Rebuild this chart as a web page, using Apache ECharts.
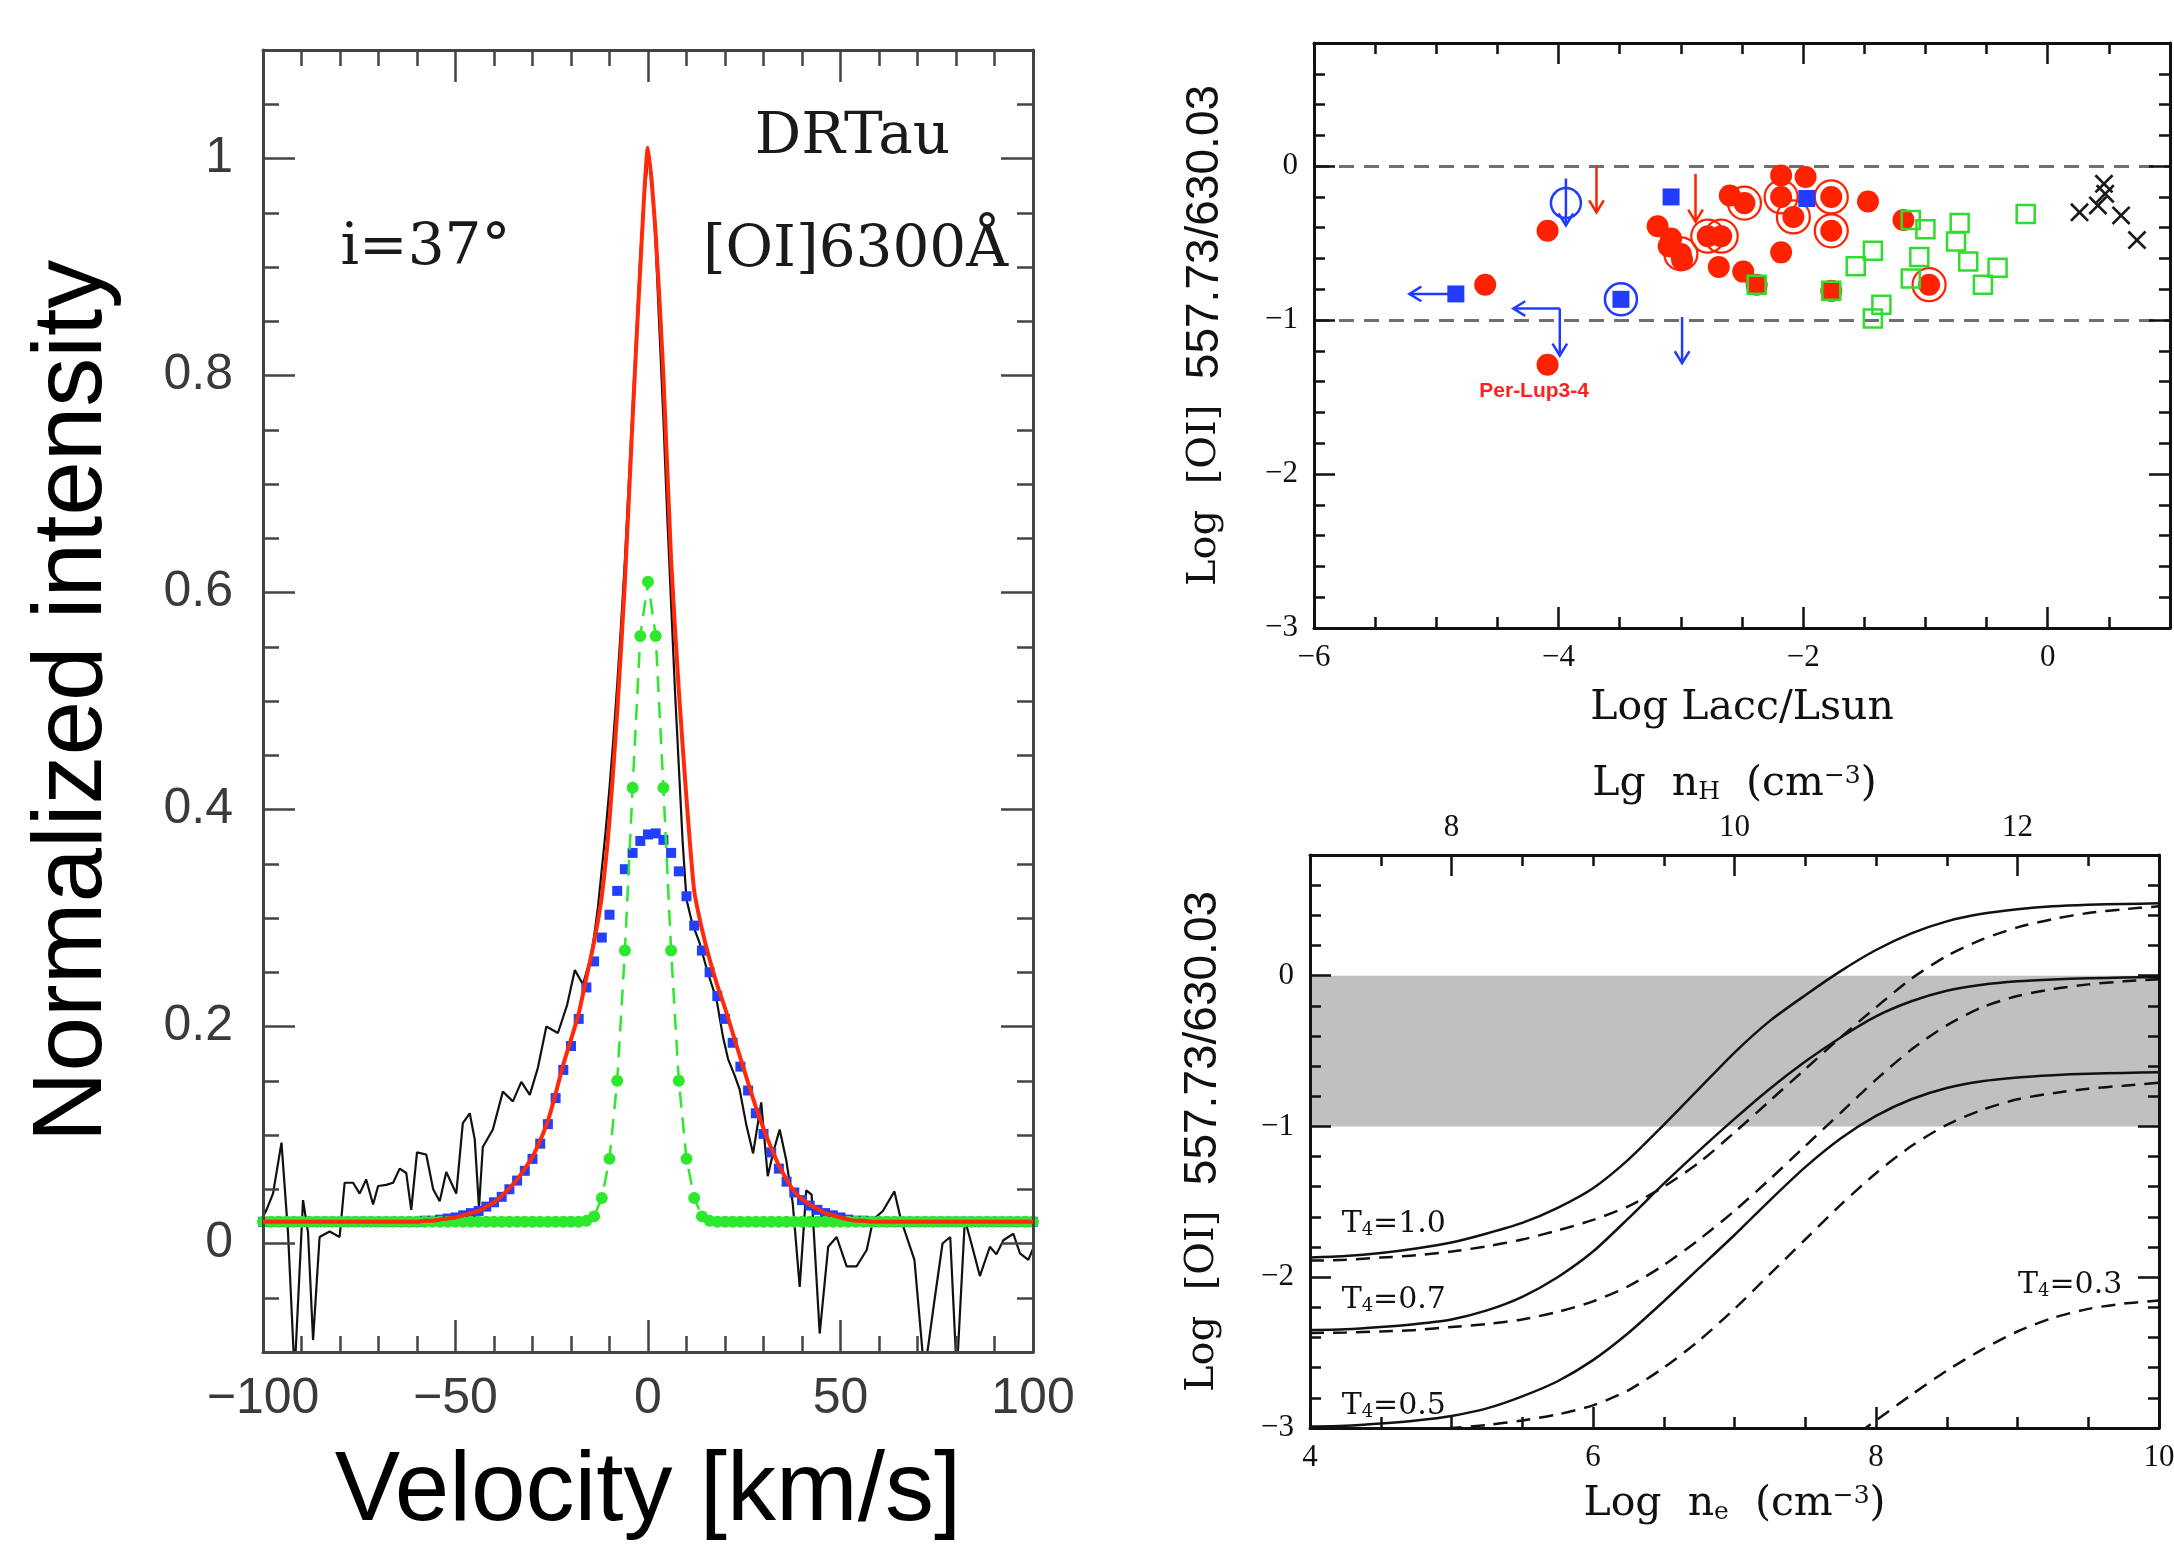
<!DOCTYPE html>
<html>
<head>
<meta charset="utf-8">
<title>[OI] line profile and 557.7/630.0 line ratio</title>
<script src="https://cdn.jsdelivr.net/npm/echarts@6/dist/echarts.min.js"></script>
<style>
html,body{margin:0;padding:0;background:#fff;}
#chart{width:2174px;height:1557px;}
</style>
</head>
<body>
<div id="chart"></div>
<script>
// ---------- Panel A: DR Tau [OI]6300 profile ----------
const velocityGrid = [-100,-98,-96,-94,-92,-90,-88,-86,-84,-82,-80,-78,-76,-74,-72,-70,-68,-66,-64,-62,
  -60,-58,-56,-54,-52,-50,-48,-46,-44,-42,-40,-38,-36,-34,-32,-30,-28,-26,-24,-22,
  -20,-18,-16,-14,-12,-10,-8,-6,-4,-2,0,2,4,6,8,10,12,14,16,18,
  20,22,24,26,28,30,32,34,36,38,40,42,44,46,48,50,52,54,56,58,
  60,62,64,66,68,70,72,74,76,78,80,82,84,86,88,90,92,94,96,98,100];

// total two-component fit (red)
const totalFit = [0.02,0.02,0.02,0.02,0.02,0.02,0.02,0.02,0.02,0.02,
  0.02,0.02,0.02,0.02,0.02,0.02,0.02,0.02,0.02,0.02,0.02,
  0.021,0.021,0.022,0.023,0.024,0.026,0.028,0.030,0.034,0.038,0.044,0.051,0.059,0.069,0.080,
  0.095,0.113,0.138,0.165,0.188,0.212,0.245,0.278,0.32,0.39,0.49,0.61,0.76,0.90,
  1.01,0.93,0.80,0.63,0.51,0.41,0.325,0.29,0.262,0.238,0.217,0.194,0.171,0.148,0.126,
  0.106,0.088,0.072,0.059,0.048,0.041,0.036,0.032,0.028,0.026,0.024,0.022,0.021,0.021,
  0.02,0.02,0.02,0.02,0.02,0.02,0.02,0.02,0.02,0.02,
  0.02,0.02,0.02,0.02,0.02,0.02,0.02,0.02,0.02,0.02,0.02,0.02];

// broad component (blue squares)
const broadFit = [0.02,0.02,0.02,0.02,0.02,0.02,0.02,0.02,0.02,0.02,
  0.02,0.02,0.02,0.02,0.02,0.02,0.02,0.02,0.02,0.02,0.02,
  0.021,0.021,0.022,0.023,0.024,0.026,0.028,0.030,0.034,0.038,0.043,0.050,0.058,0.067,0.078,
  0.092,0.110,0.134,0.160,0.182,0.207,0.236,0.260,0.282,0.303,0.325,0.345,0.360,0.371,
  0.377,0.378,0.372,0.360,0.343,0.320,0.293,0.270,0.250,0.228,0.207,0.185,0.163,0.141,0.120,
  0.101,0.084,0.069,0.057,0.047,0.040,0.035,0.031,0.028,0.026,0.024,0.022,0.021,0.021,
  0.02,0.02,0.02,0.02,0.02,0.02,0.02,0.02,0.02,0.02,
  0.02,0.02,0.02,0.02,0.02,0.02,0.02,0.02,0.02,0.02,0.02,0.02];

// narrow component (green dots)
const narrowFit = [0.02,0.02,0.02,0.02,0.02,0.02,0.02,0.02,0.02,0.02,
  0.02,0.02,0.02,0.02,0.02,0.02,0.02,0.02,0.02,0.02,
  0.02,0.02,0.02,0.02,0.02,0.02,0.02,0.02,0.02,0.02,
  0.02,0.02,0.02,0.02,0.02,0.02,0.02,0.02,0.02,0.02,0.02,0.02,
  0.021,0.025,0.042,0.078,0.15,0.27,0.42,0.56,0.61,0.56,0.42,0.27,0.15,0.078,0.042,0.025,0.021,
  0.02,0.02,0.02,0.02,0.02,0.02,0.02,0.02,0.02,0.02,
  0.02,0.02,0.02,0.02,0.02,0.02,0.02,0.02,0.02,0.02,
  0.02,0.02,0.02,0.02,0.02,0.02,0.02,0.02,0.02,0.02,
  0.02,0.02,0.02,0.02,0.02,0.02,0.02,0.02,0.02,0.02,0.02,0.02];

// observed spectrum (black)
const obsVelocity = [-100,-99.1,-97.4,-95.2,-93.5,-91.8,-89.6,-88.3,-87.0,-85.3,-82.7,-80.1,-78.8,-76.6,-74.9,
  -73.2,-71.4,-70.1,-68.0,-66.2,-64.5,-62.8,-61.5,-60.0,-57.6,-55.8,-54.1,-52.4,-51.1,-49.8,
  -48.1,-46.3,-45.0,-43.9,-42.9,-40.3,-37.7,-35.1,-32.9,-30.7,-28.6,-26.4,-23.4,-21.0,-19.0,
  -16.9,-15,-14,-13,-12,-11,-10,-9,-8,-7,-6,-5,-4,-3,-2,-1,0,1,2,3,4,5,6,7,8,9,10,
  11.5,13.4,15.5,17.8,19.5,20.8,22.5,23.8,25.5,27.3,29.4,31.1,32.6,34.2,35.9,37.6,39.4,41.1,42.5,
  44.6,46.8,49.0,51.6,54.2,56.8,58.5,61.0,64.0,65.7,69.2,71.8,74.5,76.5,78.5,80.2,82.3,84.0,
  86.2,88.8,90.5,92.3,94.9,96.6,98.8,100];
const obsIntensity = [0.025,0.031,0.046,0.093,0.010,-0.12,0.040,0.010,-0.089,0.006,0.011,0.006,0.056,0.056,0.046,
  0.059,0.036,0.053,0.054,0.056,0.069,0.065,0.031,0.084,0.082,0.050,0.039,0.066,0.056,0.046,
  0.111,0.120,0.096,0.033,0.089,0.105,0.140,0.131,0.149,0.137,0.162,0.200,0.194,0.22,0.252,
  0.239,0.262,0.283,0.31,0.345,0.38,0.42,0.465,0.515,0.57,0.63,0.70,0.77,0.84,0.91,0.965,1.0,0.985,0.92,0.84,0.76,0.67,0.59,0.51,0.44,0.37,0.317,
  0.295,0.277,0.25,0.225,0.19,0.170,0.155,0.142,0.11,0.083,0.130,0.062,0.085,0.105,0.077,0.037,-0.040,0.049,0.045,
  -0.083,-0.003,0.006,-0.021,-0.021,-0.006,0.022,0.03,0.048,0.022,-0.015,-0.12,-0.05,0.0,0.006,-0.12,0.022,0.0,
  -0.03,-0.003,-0.01,0.003,0.009,-0.009,-0.015,-0.005];

const velocityMajor = [-100, -50, 0, 50, 100];
const velocityMinor = [-90,-80,-70,-60,-40,-30,-20,-10,10,20,30,40,60,70,80,90];
const intensityMajor = [0, 0.2, 0.4, 0.6, 0.8, 1];
const intensityMinor = [-0.05,0.05,0.1,0.15,0.25,0.3,0.35,0.45,0.5,0.55,0.65,0.7,0.75,0.85,0.9,0.95,1.05];
const profileNotes = [
  { text: 'DRTau', at: [53.1, 1.019] },
  { text: '[OI]6300\u00C5', at: [53.9, 0.915] },
  { text: 'i=37\u00B0', at: [-57.8, 0.917] }
];

// ---------- Panel B: line ratio vs accretion luminosity ----------
const redFilled = [[-4.60,-0.77],[-4.09,-0.42],[-4.09,-1.29],[-3.19,-0.39],[-3.10,-0.52],[-3.08,-0.47],
  [-2.99,-0.61],[-2.69,-0.655],[-2.49,-0.685],[-2.60,-0.19],[-2.18,-0.06],[-1.98,-0.07],[-1.47,-0.23],
  [-2.18,-0.56],[-1.18,-0.35],[-2.38,-0.77],[-1.77,-0.81]];
const redRinged = [[-3.00,-0.57],[-2.78,-0.455],[-2.67,-0.455],[-2.48,-0.24],[-2.18,-0.20],[-2.08,-0.33],
  [-1.77,-0.20],[-1.77,-0.42],[-0.97,-0.77]];
const greenOpen = [[-1.12,-0.35],[-1.00,-0.41],[-0.72,-0.37],[-0.75,-0.49],[-1.05,-0.59],[-1.12,-0.73],
  [-0.65,-0.62],[-0.41,-0.66],[-0.53,-0.77],[-1.43,-0.55],[-1.57,-0.65],[-1.36,-0.90],[-1.43,-0.99],
  [-0.18,-0.31],[-2.38,-0.77],[-1.77,-0.81]];
const blackCross = [[0.26,-0.30],[0.41,-0.255],[0.46,-0.115],[0.47,-0.18],[0.60,-0.32],[0.73,-0.48]];
const blueSquare = [[-4.84,-0.83],[-3.08,-0.20],[-1.97,-0.21],[-3.49,-0.865]];
const blueRinged = [[-3.49,-0.865]];
const blueOpen = [[-3.94,-0.24]];
// limits: [x from, y from, x to, y to]
const redLimits = [[-3.69,0.0,-3.69,-0.30],[-2.88,-0.05,-2.88,-0.36]];
const blueLimits = [[-4.84,-0.83,-5.22,-0.83],[-3.99,-0.925,-4.37,-0.925],[-3.99,-0.925,-3.99,-1.23],
  [-2.99,-0.98,-2.99,-1.28],[-3.94,-0.08,-3.94,-0.385]];
const sourceNote = { text: 'Per-Lup3-4', at: [-4.20, -1.465] };
const laccMajor = [-6, -4, -2, 0];
const laccMinor = [-5.5,-5,-4.5,-3.5,-3,-2.5,-1.5,-1,-0.5,0.5];
const ratioMajor = [-3, -2, -1, 0];
const ratioMinor = [-2.8,-2.6,-2.4,-2.2,-1.8,-1.6,-1.4,-1.2,-0.8,-0.6,-0.4,-0.2,0.2,0.4,0.6];

// ---------- Panel C: model ratio vs electron density ----------
const neGrid = [4,4.25,4.5,4.75,5,5.25,5.5,5.75,6,6.25,6.5,6.75,7,7.25,7.5,7.75,8,8.25,8.5,8.75,9,9.25,9.5,9.75,10];
const t10Solid = [-1.87,-1.86,-1.84,-1.81,-1.77,-1.71,-1.64,-1.54,-1.41,-1.22,-0.99,-0.75,-0.51,
  -0.30,-0.13,0.03,0.17,0.28,0.36,0.41,0.44,0.46,0.47,0.475,0.48];
const t10Dash = [-1.89,-1.885,-1.87,-1.855,-1.83,-1.795,-1.75,-1.69,-1.62,-1.53,-1.40,-1.24,-1.04,
  -0.83,-0.62,-0.41,-0.21,-0.02,0.13,0.24,0.32,0.375,0.415,0.44,0.46];
const t07Solid = [-2.35,-2.345,-2.33,-2.31,-2.28,-2.22,-2.13,-2.00,-1.83,-1.61,-1.38,-1.16,-0.95,
  -0.75,-0.57,-0.41,-0.27,-0.17,-0.10,-0.06,-0.037,-0.025,-0.018,-0.013,-0.01];
const t07Dash = [-2.37,-2.367,-2.36,-2.35,-2.33,-2.31,-2.28,-2.23,-2.16,-2.06,-1.92,-1.75,-1.56,
  -1.35,-1.13,-0.91,-0.69,-0.49,-0.33,-0.21,-0.135,-0.09,-0.058,-0.038,-0.024];
const t05Solid = [-2.99,-2.985,-2.97,-2.95,-2.92,-2.87,-2.79,-2.69,-2.55,-2.37,-2.16,-1.94,-1.72,
  -1.49,-1.27,-1.08,-0.93,-0.82,-0.745,-0.70,-0.675,-0.66,-0.65,-0.645,-0.64];
const t05Dash = [-3.05,-3.045,-3.035,-3.02,-3.0,-2.98,-2.95,-2.91,-2.85,-2.75,-2.60,-2.42,-2.21,
  -1.98,-1.75,-1.52,-1.31,-1.13,-0.99,-0.89,-0.82,-0.78,-0.75,-0.73,-0.71];
const t03Dash = [null,null,null,null,null,null,null,null,null,null,null,null,null,null,null,
  -3.12,-2.95,-2.78,-2.62,-2.48,-2.36,-2.27,-2.21,-2.175,-2.155];
const tempNotes = [
  { text: 'T{s|4}=1.0', at: [4.22, -1.646] },
  { text: 'T{s|4}=0.7', at: [4.22, -2.15] },
  { text: 'T{s|4}=0.5', at: [4.22, -2.855] },
  { text: 'T{s|4}=0.3', at: [9.0, -2.055] }
];
const neMajor = [4, 6, 8, 10];
const neMinor = [4.5,5,5.5,6.5,7,7.5,8.5,9,9.5];
const nhMajor = [8, 10, 12];
const nhMinor = [7.5,8.5,9,9.5,10.5,11,11.5,12.5];
const bandLimits = [-1, 0];

// ---------- helpers ----------
const SANS = 'Liberation Sans';
const SERIF = 'DejaVu Serif';
const TIMES = 'Liberation Serif';
const RED = '#ff2a0a', BLUE = '#2140ff', GREEN = '#2de82d';

const zip = (xs, ys) => xs.map((x, i) => [x, ys[i]]);
const fmtMinus = v => String(v).replace('-', '\u2212');

function frameSide(list, o) {
  const tickStyle = { color: o.color, width: o.tickWidth };
  const major = {
    type: 'value', gridIndex: o.grid, position: o.pos, min: o.min, max: o.max, z: 5,
    axisLine: { show: true, onZero: false, lineStyle: { color: o.color, width: o.lineWidth } },
    axisTick: { show: true, inside: true, length: o.majorLen, customValues: o.major, lineStyle: tickStyle },
    minorTick: { show: false }, splitLine: { show: false }, splitArea: { show: false },
    axisPointer: { show: false },
    axisLabel: o.labelStyle
      ? Object.assign({ show: true, customValues: o.labels || o.major, hideOverlap: false, formatter: fmtMinus }, o.labelStyle)
      : { show: false },
    name: o.name || '', nameLocation: 'middle', nameGap: o.nameGap || 15,
    nameTextStyle: o.nameStyle || {}, nameMoveOverlap: false
  };
  const minor = {
    type: 'value', gridIndex: o.grid, position: o.pos, min: o.min, max: o.max, z: 5,
    axisLine: { show: false, onZero: false },
    axisTick: { show: true, inside: true, length: o.minorLen, customValues: o.minor, lineStyle: tickStyle },
    minorTick: { show: false }, splitLine: { show: false }, axisLabel: { show: false },
    axisPointer: { show: false }
  };
  list.push(major, minor);
  return list.length - 2;
}

const xAxes = [], yAxes = [];
const leftLabel = { fontFamily: SANS, fontSize: 50, color: '#3a3a3a' };
const serifLabel = { fontFamily: TIMES, fontSize: 31, color: '#111' };
const ratioName = {
  fontFamily: SERIF, fontSize: 40, color: '#111',
  rich: {
    a: { fontFamily: SERIF, fontSize: 40, color: '#111' },
    b: { fontFamily: SANS, fontSize: 46, color: '#111' }
  }
};
const densityName = {
  fontFamily: SERIF, fontSize: 41, color: '#111',
  rich: {
    e: { fontFamily: SERIF, fontSize: 25, color: '#111', verticalAlign: 'bottom', padding: [14, 0, 0, 0] },
    p: { fontFamily: SERIF, fontSize: 25, color: '#111', verticalAlign: 'top' }
  }
};

// Panel A axes
const axA = frameSide(xAxes, { grid: 0, pos: 'bottom', min: -100, max: 100, major: velocityMajor, minor: velocityMinor,
  majorLen: 32, minorLen: 16, color: '#444', lineWidth: 3, tickWidth: 2.5,
  labelStyle: Object.assign({ margin: 22 }, leftLabel),
  name: 'Velocity [km/s]', nameGap: 92, nameStyle: { fontFamily: SANS, fontSize: 98, color: '#000' } });
frameSide(xAxes, { grid: 0, pos: 'top', min: -100, max: 100, major: velocityMajor, minor: velocityMinor,
  majorLen: 32, minorLen: 16, color: '#444', lineWidth: 3, tickWidth: 2.5 });
const ayA = frameSide(yAxes, { grid: 0, pos: 'left', min: -0.1, max: 1.1, major: intensityMajor, minor: intensityMinor,
  majorLen: 32, minorLen: 16, color: '#444', lineWidth: 3, tickWidth: 2.5,
  labelStyle: Object.assign({ margin: 30 }, leftLabel),
  name: 'Normalized intensity', nameGap: 140, nameStyle: { fontFamily: SANS, fontSize: 98, color: '#000' } });
frameSide(yAxes, { grid: 0, pos: 'right', min: -0.1, max: 1.1, major: intensityMajor, minor: intensityMinor,
  majorLen: 32, minorLen: 16, color: '#444', lineWidth: 3, tickWidth: 2.5 });

// Panel B axes
const axB = frameSide(xAxes, { grid: 1, pos: 'bottom', min: -6, max: 1, major: laccMajor, minor: laccMinor,
  majorLen: 21, minorLen: 11, color: '#111', lineWidth: 3, tickWidth: 2.5,
  labelStyle: Object.assign({ margin: 14 }, serifLabel),
  name: 'Log Lacc/Lsun', nameGap: 60, nameStyle: { fontFamily: SERIF, fontSize: 41, color: '#111' } });
frameSide(xAxes, { grid: 1, pos: 'top', min: -6, max: 1, major: laccMajor, minor: laccMinor,
  majorLen: 21, minorLen: 11, color: '#111', lineWidth: 3, tickWidth: 2.5 });
const ayB = frameSide(yAxes, { grid: 1, pos: 'left', min: -3, max: 0.8, major: ratioMajor, minor: ratioMinor,
  majorLen: 21, minorLen: 11, color: '#111', lineWidth: 3, tickWidth: 2.5,
  labelStyle: Object.assign({ margin: 16 }, serifLabel),
  name: '{a|Log  [OI]}  {b|557.73/630.03}', nameGap: 86, nameStyle: ratioName });
frameSide(yAxes, { grid: 1, pos: 'right', min: -3, max: 0.8, major: ratioMajor, minor: ratioMinor,
  majorLen: 21, minorLen: 11, color: '#111', lineWidth: 3, tickWidth: 2.5 });

// Panel C axes
const axC = frameSide(xAxes, { grid: 2, pos: 'bottom', min: 4, max: 10, major: neMajor, minor: neMinor,
  majorLen: 21, minorLen: 11, color: '#111', lineWidth: 3, tickWidth: 2.5,
  labelStyle: Object.assign({ margin: 14 }, serifLabel),
  name: 'Log  n{e|e}  (cm{p|\u22123})', nameGap: 56, nameStyle: densityName });
frameSide(xAxes, { grid: 2, pos: 'top', min: 7, max: 13, major: nhMajor, minor: nhMinor,
  majorLen: 21, minorLen: 11, color: '#111', lineWidth: 3, tickWidth: 2.5,
  labelStyle: Object.assign({ margin: 12 }, serifLabel),
  name: 'Lg  n{e|H}  (cm{p|\u22123})', nameGap: 50, nameStyle: densityName });
const ayC = frameSide(yAxes, { grid: 2, pos: 'left', min: -3, max: 0.8, major: ratioMajor, minor: ratioMinor,
  majorLen: 21, minorLen: 11, color: '#111', lineWidth: 3, tickWidth: 2.5,
  labelStyle: Object.assign({ margin: 16 }, serifLabel),
  name: '{a|Log  [OI]}  {b|557.73/630.03}', nameGap: 84, nameStyle: ratioName });
frameSide(yAxes, { grid: 2, pos: 'right', min: -3, max: 0.8, major: ratioMajor, minor: ratioMinor,
  majorLen: 21, minorLen: 11, color: '#111', lineWidth: 3, tickWidth: 2.5 });

function arrowRenderer(color) {
  return function (params, api) {
    const a = api.coord([api.value(0), api.value(1)]);
    const b = api.coord([api.value(2), api.value(3)]);
    const ang = Math.atan2(b[1] - a[1], b[0] - a[0]);
    const h = 14, w = 0.55;
    const p1 = [b[0] - h * Math.cos(ang - w), b[1] - h * Math.sin(ang - w)];
    const p2 = [b[0] - h * Math.cos(ang + w), b[1] - h * Math.sin(ang + w)];
    return {
      type: 'group',
      children: [
        { type: 'line', shape: { x1: a[0], y1: a[1], x2: b[0], y2: b[1] }, style: { stroke: color, lineWidth: 2.5 } },
        { type: 'polyline', shape: { points: [p1, b, p2] }, style: { stroke: color, lineWidth: 2.5, fill: null } }
      ]
    };
  };
}

function noteSeries(xi, yi, notes, labelStyle) {
  return {
    type: 'scatter', xAxisIndex: xi, yAxisIndex: yi, symbolSize: 1, z: 6,
    itemStyle: { color: 'transparent', opacity: 1 }, silent: true,
    data: notes.map(n => ({ value: n.at, label: { formatter: n.text } })),
    label: Object.assign({ show: true }, labelStyle)
  };
}

function dots(xi, yi, data, symbol, size, style, z) {
  return { type: 'scatter', xAxisIndex: xi, yAxisIndex: yi, data: data, symbol: symbol, symbolSize: size,
    itemStyle: Object.assign({ opacity: 1 }, style), z: z, silent: true };
}

const crossPath = 'path://M1,0 L5,4 L9,0 L10,1 L6,5 L10,9 L9,10 L5,6 L1,10 L0,9 L4,5 L0,1 Z';

function curve(data, dashed) {
  return { type: 'line', xAxisIndex: axC, yAxisIndex: ayC, data: zip(neGrid, data), showSymbol: false,
    smooth: 0.25, connectNulls: false,
    lineStyle: dashed ? { color: '#111', width: 2.5, type: [14, 9] } : { color: '#111', width: 2.5 },
    z: 3, silent: true };
}

const bandCurve = curve(t10Solid, false);
bandCurve.markArea = { silent: true, itemStyle: { color: '#c0c0c0' },
  data: [[{ yAxis: bandLimits[0] }, { yAxis: bandLimits[1] }]] };

const redWithGuides = dots(axB, ayB, redFilled, 'circle', 22, { color: '#ff2200' }, 3);
redWithGuides.markLine = { silent: true, symbol: 'none', label: { show: false }, z: 1,
  lineStyle: { color: '#707070', width: 3, type: [15, 10] },
  data: [{ yAxis: 0 }, { yAxis: -1 }] };

const series = [
  // Panel A
  { type: 'line', xAxisIndex: axA, yAxisIndex: ayA, data: zip(obsVelocity, obsIntensity), showSymbol: false,
    lineStyle: { color: '#111', width: 2.2 }, z: 2, silent: true },
  { type: 'line', xAxisIndex: axA, yAxisIndex: ayA, data: zip(velocityGrid, broadFit), symbol: 'rect', symbolSize: 10,
    showSymbol: true, lineStyle: { opacity: 0 }, itemStyle: { color: BLUE, opacity: 1 }, z: 3, silent: true },
  { type: 'line', xAxisIndex: axA, yAxisIndex: ayA, data: zip(velocityGrid, narrowFit), symbol: 'circle', symbolSize: 12,
    showSymbol: true, lineStyle: { color: GREEN, width: 2.5, type: [16, 10] }, itemStyle: { color: GREEN, opacity: 1 }, z: 4, silent: true },
  { type: 'line', xAxisIndex: axA, yAxisIndex: ayA, data: zip(velocityGrid, totalFit), showSymbol: false, smooth: 0.2,
    lineStyle: { color: RED, width: 4 }, z: 5, silent: true },
  noteSeries(axA, ayA, profileNotes, { position: 'inside', fontFamily: SERIF, fontSize: 58, color: '#1a1a1a' }),

  // Panel B
  redWithGuides,
  dots(axB, ayB, redRinged, 'circle', 22, { color: '#ff2200' }, 3),
  dots(axB, ayB, redRinged, 'circle', 33, { color: 'transparent', borderColor: '#ff2200', borderWidth: 2.2 }, 3),
  dots(axB, ayB, greenOpen, 'rect', 18, { color: 'transparent', borderColor: '#2fdc2f', borderWidth: 2.5 }, 4),
  dots(axB, ayB, blackCross, crossPath, 19, { color: '#1a1a1a' }, 4),
  dots(axB, ayB, blueSquare, 'rect', 17, { color: '#1f3cff' }, 4),
  dots(axB, ayB, blueRinged, 'circle', 32, { color: 'transparent', borderColor: '#1f3cff', borderWidth: 2.5 }, 4),
  dots(axB, ayB, blueOpen, 'circle', 30, { color: 'transparent', borderColor: '#1f3cff', borderWidth: 2.5 }, 4),
  { type: 'custom', xAxisIndex: axB, yAxisIndex: ayB, data: redLimits, encode: { x: [0, 2], y: [1, 3] },
    renderItem: arrowRenderer('#ff2200'), z: 4, silent: true },
  { type: 'custom', xAxisIndex: axB, yAxisIndex: ayB, data: blueLimits, encode: { x: [0, 2], y: [1, 3] },
    renderItem: arrowRenderer('#1f3cff'), z: 4, silent: true },
  noteSeries(axB, ayB, [sourceNote], { position: 'inside', fontFamily: SANS, fontWeight: 'bold', fontSize: 21, color: '#ff2020' }),

  // Panel C
  bandCurve,
  curve(t10Dash, true),
  curve(t07Solid, false),
  curve(t07Dash, true),
  curve(t05Solid, false),
  curve(t05Dash, true),
  curve(t03Dash, true),
  noteSeries(axC, ayC, tempNotes, { position: 'right', distance: 0, fontFamily: SERIF, fontSize: 30, color: '#111',
    rich: { s: { fontFamily: SERIF, fontSize: 18, color: '#111', verticalAlign: 'bottom', padding: [12, 0, 0, 0] } } })
];

const chart = echarts.init(document.getElementById('chart'), null, { renderer: 'canvas', width: 2174, height: 1557 });
chart.setOption({
  animation: false,
  backgroundColor: '#ffffff',
  grid: [
    { left: 263, top: 50, width: 770, height: 1302, containLabel: false, outerBoundsMode: 'none', show: false },
    { left: 1314, top: 43, width: 856, height: 585, containLabel: false, outerBoundsMode: 'none', show: false },
    { left: 1310, top: 855, width: 849, height: 573, containLabel: false, outerBoundsMode: 'none', show: false }
  ],
  xAxis: xAxes,
  yAxis: yAxes,
  series: series
});
</script>
</body>
</html>
